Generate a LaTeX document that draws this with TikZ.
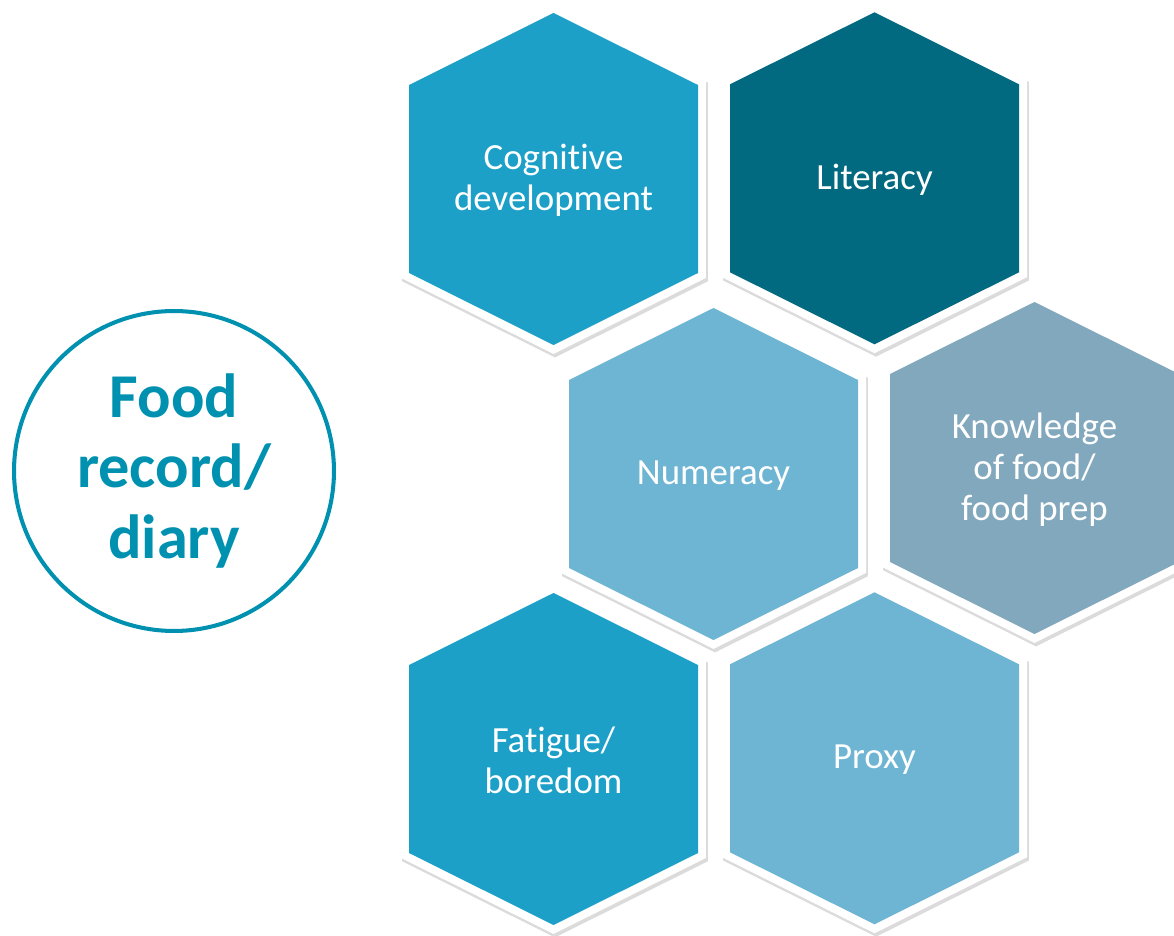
\documentclass[tikz,border=0pt]{standalone}
\usepackage{fontspec}
\setmainfont{Carlito}[Ligatures=NoCommon]
\usepackage{xcolor}
\usetikzlibrary{positioning}

\definecolor{cellblue}{HTML}{1DA0C8}
\definecolor{celldark}{HTML}{016980}
\definecolor{celllight}{HTML}{6EB5D4}
\definecolor{cellgrey}{HTML}{82A8BE}
\definecolor{foodteal}{HTML}{0091B0}

\tikzset{
	hexshadow/.style={draw=black, opacity=0.14, line width=9.6pt, line join=miter},
	hexrim/.style={draw=white, line width=9.1pt, line join=miter},
	hexlabel/.style={text=white, align=center, font=\fontsize{21}{23.2}\selectfont},
	foodlabel/.style={circle, draw=foodteal, line width=2.3pt, minimum size=6.4cm,
		text=foodteal, align=center, font=\bfseries\fontsize{35.5}{40}\selectfont},
}

% hexagon outline round a centre, in pixel units
\newcommand{\hexpath}[2]{(#1,#2) ++(0,-166) -- ++(144.5,72) -- ++(0,188) -- ++(-144.5,72) -- ++(-144.5,-72) -- ++(0,-188) -- cycle}

\begin{document}
\begin{tikzpicture}[x=0.02cm,y=-0.02cm]
	
	% page frame
	\useasboundingbox (0,0) rectangle (1174,936);
	\clip (0,0) rectangle (1174,936);
	
	% circle on the left
	\node[foodlabel] (food) at (174,471) {Food\\record/\\diary};
	
	% hexagon cells
	\foreach \cx/\cy/\col/\nm/\txt in {
		553.5/179/cellblue/cog/{Cognitive\\development},
		874.5/178.3/celldark/lit/{Literacy},
		713.5/474/celllight/num/{Numeracy},
		1034.5/468/cellgrey/know/{Knowledge\\of food/\\food prep},
		553.5/759/cellblue/fat/{Fatigue/\\boredom},
		874.5/758.3/celllight/proxy/{Proxy}} {
		\draw[hexshadow, shift={(1.5,3)}] \hexpath{\cx}{\cy};
		\draw[hexrim] \hexpath{\cx}{\cy};
		\fill[\col] \hexpath{\cx}{\cy};
		\node[hexlabel] (\nm) at (\cx,\cy+1.5) {\txt};
	}
	
\end{tikzpicture}
\end{document}
